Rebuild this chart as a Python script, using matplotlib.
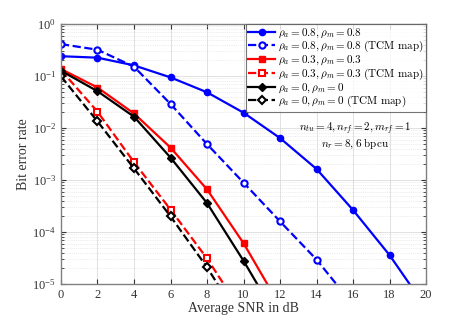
import matplotlib
matplotlib.use("Agg")
import matplotlib.pyplot as plt
import numpy as np

plt.rcParams['font.family'] = ['Liberation Serif', 'DejaVu Serif']
plt.rcParams['mathtext.fontset'] = 'cm'

snr = [0, 2, 4, 6, 8, 10, 12, 14, 16, 18, 20]
ber_08 = [0.24, 0.225, 0.16, 0.094, 0.0486, 0.0197, 0.0064, 0.00163, 2.65e-4, 3.6e-5, 3.5e-6]
ber_08_tcm = [0.41, 0.32, 0.151, 0.029, 0.0049, 8.9e-4, 1.6e-4, 2.95e-5, 4e-6]
ber_03 = [0.136, 0.06, 0.019, 0.0042, 6.6e-4, 6.1e-5, 3.8e-6]
ber_03_tcm = [0.13, 0.0206, 2.2e-3, 2.7e-4, 3.1e-5, 2.6e-6]
ber_0 = [0.126, 0.051, 0.0165, 0.0027, 3.6e-4, 2.8e-5, 1.8e-6]
ber_0_tcm = [0.098, 0.0134, 1.67e-3, 2.0e-4, 2.1e-5, 1.6e-6]

labels = [r'$\rho_a=0.8, \rho_m=0.8$',
          r'$\rho_a=0.8, \rho_m=0.8\ \mathrm{(TCM\ map)}$',
          r'$\rho_a=0.3, \rho_m=0.3$',
          r'$\rho_a=0.3, \rho_m=0.3\ \mathrm{(TCM\ map)}$',
          r'$\rho_a=0, \rho_m=0$',
          r'$\rho_a=0, \rho_m=0\ \mathrm{(TCM\ map)}$']

fig = plt.figure(figsize=(4.71, 3.19), dpi=100)
ax = fig.add_axes([0.1295, 0.1097, 0.775, 0.8151])

lw = 1.6
ms = 4.5
ax.semilogy(snr[:len(ber_08)], ber_08, '-o', color='blue', lw=lw, ms=ms, label=labels[0])
ax.semilogy(snr[:len(ber_08_tcm)], ber_08_tcm, '--o', color='blue', lw=lw, ms=ms, mfc='white', mew=1.5, label=labels[1])
ax.semilogy(snr[:len(ber_03)], ber_03, '-s', color='red', lw=lw, ms=ms, label=labels[2])
ax.semilogy(snr[:len(ber_03_tcm)], ber_03_tcm, '--s', color='red', lw=lw, ms=ms, mfc='white', mew=1.5, label=labels[3])
ax.semilogy(snr[:len(ber_0)], ber_0, '-D', color='black', lw=lw, ms=4, label=labels[4])
ax.semilogy(snr[:len(ber_0_tcm)], ber_0_tcm, '--D', color='black', lw=lw, ms=4, mfc='white', mew=1.5, label=labels[5])

ax.set_xlim(0, 20)
ax.set_ylim(1e-5, 1)
ax.set_xticks(np.arange(0, 21, 2))
ax.set_yticks([1e-5, 1e-4, 1e-3, 1e-2, 1e-1, 1])
ax.grid(True, which='major', color='#dcdcdc', lw=0.6)
ax.grid(True, which='minor', color='#dcdcdc', lw=0.5, ls=':')
ax.tick_params(which='both', direction='in', top=True, right=True, labelsize=9, colors='#333333')
for s in ax.spines.values():
    s.set_color('#808080')
    s.set_linewidth(1.0)

ax.set_xlabel('Average SNR in dB', fontsize=10, color='#333333', labelpad=1)
ax.set_ylabel('Bit error rate', fontsize=10, color='#333333', labelpad=2)

leg = ax.legend(loc='upper right', fontsize=8, frameon=True, fancybox=False,
                edgecolor='#555555', borderaxespad=0, handlelength=2.4,
                handletextpad=0.3, labelspacing=-0.05, borderpad=0.2)
leg.get_frame().set_linewidth(0.8)

ax.text(16.1, 10**-2.02, r'$n_{tu}=4, n_{rf}=2, m_{rf}=1$', ha='center', va='center', fontsize=8)
ax.text(16.1, 10**-2.31, r'$n_r=8, \mathrm{6\ bpcu}$', ha='center', va='center', fontsize=8)

fig.savefig('out.png', dpi=100)
